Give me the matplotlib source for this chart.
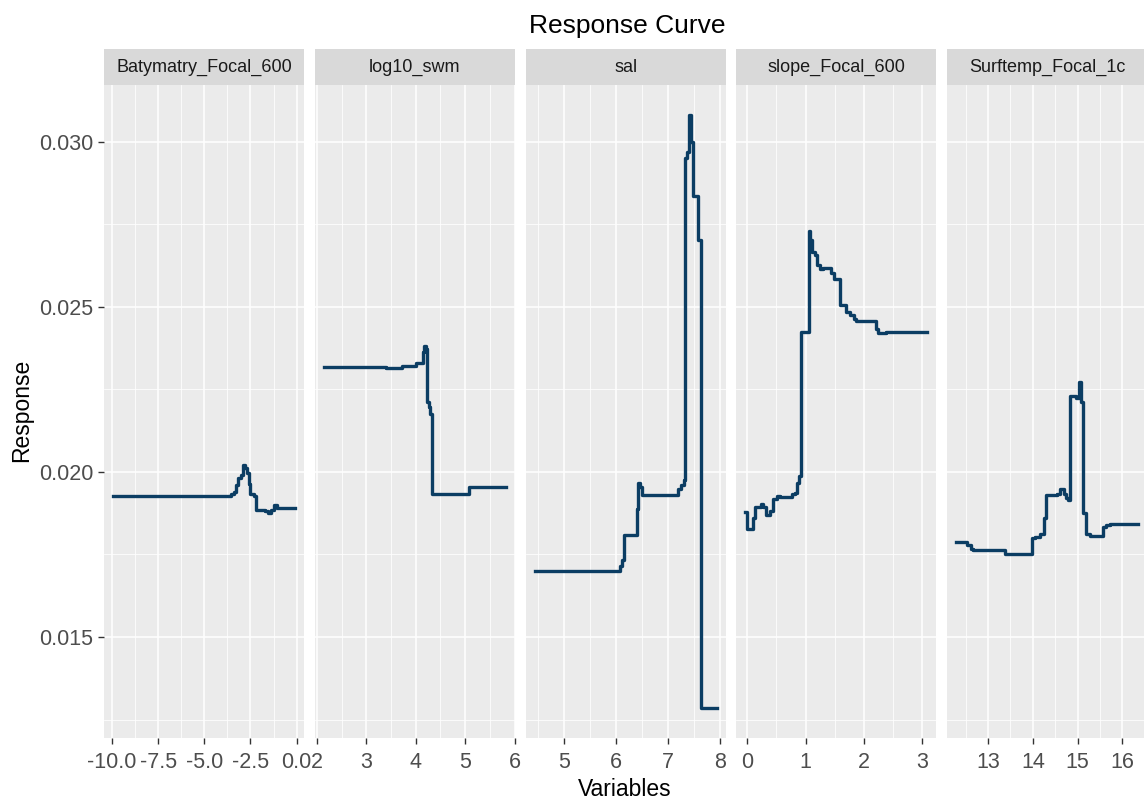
import numpy as np
import matplotlib
matplotlib.use("Agg")
import matplotlib.pyplot as plt
from matplotlib.patches import Rectangle
from matplotlib.ticker import MultipleLocator, FormatStrFormatter, FixedLocator

plt.rcParams['font.family'] = ['Liberation Sans', 'DejaVu Sans']
plt.rcParams['axes.unicode_minus'] = False

# Response curves (step-wise), one list pair per variable
names = ['Batymatry_Focal_600', 'log10_swm', 'sal', 'slope_Focal_600', 'Surftemp_Focal_1c']

bat_x = [-9.95, -3.55, -3.40, -3.27, -3.18, -3.00, -2.91, -2.78, -2.68, -2.60, -2.50,
         -2.30, -2.18, -1.73, -1.54, -1.40, -1.25, -1.05, -0.09]
bat_y = [0.01927, 0.01932, 0.01940, 0.01960, 0.01983, 0.01990, 0.02020, 0.02012, 0.01998,
         0.01962, 0.01932, 0.01926, 0.01886, 0.01881, 0.01876, 0.01885, 0.01899, 0.01892, 0.01892]

swm_x = [2.14, 3.40, 3.73, 4.00, 4.15, 4.17, 4.21, 4.23, 4.26, 4.29, 4.32, 5.08, 5.82]
swm_y = [0.02319, 0.02314, 0.02321, 0.02331, 0.02363, 0.02381, 0.02372, 0.02211, 0.02197,
         0.02175, 0.01932, 0.01954, 0.01954]

sal_x = [4.44, 6.07, 6.11, 6.16, 6.40, 6.43, 6.46, 6.50, 7.19, 7.24, 7.30, 7.33, 7.37,
         7.40, 7.445, 7.475, 7.57, 7.625, 7.93]
sal_y = [0.01701, 0.01715, 0.01733, 0.01809, 0.01887, 0.01967, 0.01955, 0.01931, 0.01947,
         0.01959, 0.01977, 0.02950, 0.02968, 0.03082, 0.03000, 0.02836, 0.02703, 0.01284, 0.01284]

slope_x = [-0.03, 0.0, 0.103, 0.131, 0.228, 0.274, 0.319, 0.388, 0.433, 0.513,
           0.559, 0.758, 0.815, 0.855, 0.889, 0.929, 1.055, 1.083, 1.117, 1.157,
           1.197, 1.243, 1.300, 1.442, 1.482, 1.585, 1.688, 1.756, 1.824, 1.859,
           2.201, 2.241, 2.383, 3.084]
slope_y = [0.01878, 0.01827, 0.01861, 0.01894, 0.01903, 0.01894, 0.01871, 0.01881, 0.01917, 0.01926,
           0.01923, 0.01932, 0.01937, 0.01967, 0.01987, 0.02423, 0.02730, 0.02702, 0.02667, 0.02657,
           0.02626, 0.02616, 0.02618, 0.02601, 0.02583, 0.02507, 0.02484, 0.02474, 0.02464, 0.02457,
           0.02434, 0.02420, 0.02425, 0.02425]

temp_x = [12.29, 12.52, 12.61, 12.67, 13.37, 13.99, 14.04, 14.15, 14.24, 14.29, 14.53, 14.61,
          14.69, 14.75, 14.79, 14.82, 14.97, 15.03, 15.08, 15.12, 15.19, 15.28, 15.57, 15.64,
          15.72, 16.35]
temp_y = [0.01787, 0.01779, 0.01768, 0.01762, 0.01750, 0.01799, 0.01802, 0.01813, 0.01860,
          0.01929, 0.01934, 0.01947, 0.01934, 0.01921, 0.01915, 0.02230, 0.02225, 0.02273,
          0.02212, 0.01875, 0.01811, 0.01806, 0.01832, 0.01838, 0.01843, 0.01843]

series = [(bat_x, bat_y), (swm_x, swm_y), (sal_x, sal_y), (slope_x, slope_y), (temp_x, temp_y)]
x_major = [2.5, 1, 1, 1, 1]
y_ticks = [0.015, 0.020, 0.025, 0.030]

W, H = 1144, 801
fig = plt.figure(figsize=(W / 100, H / 100), dpi=100)

line_col = '#0b3d63'
left0, pw, gap = 104, 200, 10.8
top, bottom = 85, 738
strip_h = 36

axes = []
for i, (name, (xs, ys)) in enumerate(zip(names, series)):
    l = left0 + i * (pw + gap)
    ax = fig.add_axes([l / W, (H - bottom) / H, pw / W, (bottom - top) / H],
                      sharey=axes[0] if axes else None)
    axes.append(ax)
    ax.set_facecolor('#EBEBEB')
    for s in ax.spines.values():
        s.set_visible(False)
    ax.step(xs, ys, where='post', color=line_col, lw=2.4, zorder=3)
    ax.margins(x=0.05, y=0.05)

    ax.xaxis.set_major_locator(MultipleLocator(x_major[i]))
    ax.xaxis.set_minor_locator(MultipleLocator(x_major[i] / 2))
    if i == 0:
        ax.xaxis.set_major_formatter(FormatStrFormatter('%.1f'))
    ax.grid(which='major', color='white', lw=1.1, zorder=1)
    ax.grid(which='minor', color='white', lw=0.55, zorder=1)
    ax.set_axisbelow(True)
    ax.tick_params(axis='x', which='major', length=4.5, width=1, color='#333333',
                   labelsize=15.5, labelcolor='#4D4D4D', pad=5.5)
    ax.tick_params(which='minor', length=0)

    ax.add_patch(Rectangle((0, 1), 1, strip_h / (bottom - top), transform=ax.transAxes,
                           facecolor='#D9D9D9', edgecolor='none', clip_on=False))
    ax.text(0.5, 1 + strip_h / 2 / (bottom - top), name, transform=ax.transAxes,
            ha='center', va='center', fontsize=13, color='#1A1A1A')

ax0 = axes[0]
ax0.yaxis.set_major_locator(FixedLocator(y_ticks))
ax0.yaxis.set_minor_locator(FixedLocator([0.0125, 0.0175, 0.0225, 0.0275]))
ax0.yaxis.set_major_formatter(FormatStrFormatter('%.3f'))
ax0.tick_params(axis='y', which='major', length=4.5, width=1, color='#333333',
                labelsize=15.5, labelcolor='#4D4D4D', pad=3)
for ax in axes[1:]:
    ax.tick_params(axis='y', which='both', left=False, labelleft=False)

fig.text(625 / W, 1 - 789 / H, 'Variables', ha='center', va='center', fontsize=16.5, color='black')
fig.text(22 / W, 1 - 410 / H, 'Response', ha='center', va='center', rotation=90,
         fontsize=16.5, color='black')
fig.text(627 / W, 1 - 26 / H, 'Response Curve', ha='center', va='center', fontsize=19,
         color='black')

fig.savefig('out.png', dpi=100)
